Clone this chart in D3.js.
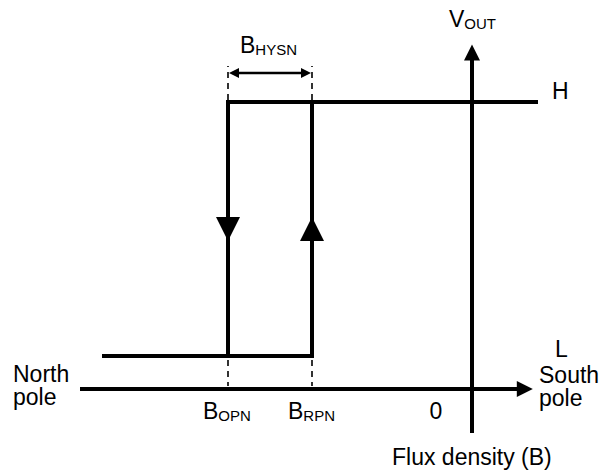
<!DOCTYPE html>
<html>
<head>
<meta charset="utf-8">
<script src="https://cdn.jsdelivr.net/npm/d3@7/dist/d3.min.js"></script>
<style>
  html, body { margin: 0; padding: 0; background: #fff; }
  text { font-family: "Liberation Sans", Arial, Helvetica, sans-serif; fill: #000; }
</style>
</head>
<body>
<div id="chart"></div>
<script>
// ---- data ----
const levelNames = ["L", "H"];              // output levels
const levelValues = [1.15, 10];             // V_OUT for L and H
const thresholdNames = ["OPN", "RPN"];      // B thresholds (subscripts)
const thresholdValues = [-6.1, -4];         // B_OPN, B_RPN
const fluxStart = -9.2;                     // where the L branch starts
const fluxEnd = 1.6;                        // where the H branch ends
const xAxisExtent = [-9.8, 1.52];
const yAxisExtent = [-1.53, 12];
const zeroLabel = ["0"];
const northLines = ["North", "pole"];
const southLines = ["South", "pole"];

const W = 601, H = 470;
const x = d3.scaleLinear().domain([0, 1]).range([472, 512]);   // 1 unit = 40px, 0 at 472
const y = d3.scaleLinear().domain([0, 10]).range([389, 102]);

const svg = d3.select("#chart").append("svg").attr("width", W).attr("height", H);

const bOPN = thresholdValues[0], bRPN = thresholdValues[1];
const vL = levelValues[0], vH = levelValues[1];

// axes
svg.append("line")
  .attr("x1", x(xAxisExtent[0])).attr("x2", x(xAxisExtent[1]) - 14)
  .attr("y1", y(0)).attr("y2", y(0))
  .attr("stroke", "#000").attr("stroke-width", 4);
svg.append("path")
  .attr("d", d3.line()([[x(xAxisExtent[1]) - 16, y(0) - 8], [x(xAxisExtent[1]), y(0)], [x(xAxisExtent[1]) - 16, y(0) + 8]]) + "Z")
  .attr("fill", "#000");

svg.append("line")
  .attr("x1", x(0)).attr("x2", x(0))
  .attr("y1", y(yAxisExtent[0])).attr("y2", y(yAxisExtent[1]) + 14)
  .attr("stroke", "#000").attr("stroke-width", 4);
svg.append("path")
  .attr("d", d3.line()([[x(0) - 8, y(yAxisExtent[1]) + 16], [x(0), y(yAxisExtent[1])], [x(0) + 8, y(yAxisExtent[1]) + 16]]) + "Z")
  .attr("fill", "#000");

// hysteresis loop
const line = d3.line().x(d => x(d[0])).y(d => y(d[1]));
const segments = [
  [[bOPN, vH], [fluxEnd, vH]],
  [[fluxStart, vL], [bRPN, vL]],
  [[bOPN, vH], [bOPN, vL]],
  [[bRPN, vL], [bRPN, vH]]
];
svg.selectAll("path.loop").data(segments).enter().append("path")
  .attr("class", "loop")
  .attr("d", line)
  .attr("fill", "none")
  .attr("stroke", "#000")
  .attr("stroke-width", 4)
  .attr("stroke-linecap", "square");

// direction arrows at mid-height
const midY = y((vH + vL) / 2);
const dirArrows = [{b: bOPN, dir: 1}, {b: bRPN, dir: -1}];
svg.selectAll("path.dir").data(dirArrows).enter().append("path")
  .attr("class", "dir")
  .attr("d", d => {
    const cx = x(d.b);
    const base = midY - d.dir * 12, tip = midY + d.dir * 12;
    return d3.line()([[cx - 12, base], [cx + 12, base], [cx, tip]]) + "Z";
  })
  .attr("fill", "#000");

// dashed guide lines
const guides = [];
thresholdValues.forEach(b => {
  guides.push({b: b, y1: y(vH) - 2, y2: y(vH) - 36});
  guides.push({b: b, y1: y(vL) + 4, y2: y(0) - 3});
});
svg.selectAll("line.guide").data(guides).enter().append("line")
  .attr("class", "guide")
  .attr("x1", d => x(d.b)).attr("x2", d => x(d.b))
  .attr("y1", d => d.y1).attr("y2", d => d.y2)
  .attr("stroke", "#000").attr("stroke-width", 1.6)
  .attr("stroke-dasharray", "6,5");

// hysteresis width double arrow
const hy = 73;
const x1 = x(bOPN), x2 = x(bRPN);
svg.append("line").attr("x1", x1 + 6).attr("x2", x2 - 6).attr("y1", hy).attr("y2", hy)
  .attr("stroke", "#000").attr("stroke-width", 2.5);
svg.append("path").attr("d", d3.line()([[x1 + 1, hy], [x1 + 11, hy - 5], [x1 + 11, hy + 5]]) + "Z").attr("fill", "#000");
svg.append("path").attr("d", d3.line()([[x2 - 1, hy], [x2 - 11, hy - 5], [x2 - 11, hy + 5]]) + "Z").attr("fill", "#000");

// labels
const big = 23, small = 15;
function sub(g, xx, yy, main, s) {
  const t = g.append("text").attr("x", xx).attr("y", yy).style("font-size", big + "px");
  t.append("tspan").text(main);
  t.append("tspan").attr("dy", 2).style("font-size", small + "px").text(s);
  return t;
}
sub(svg, 240, 53, "B", "HYSN");
sub(svg, 449, 27, "V", "OUT");
sub(svg, 203, 419, "B", thresholdNames[0]);
sub(svg, 288, 419, "B", thresholdNames[1]);

svg.append("text").attr("x", 552).attr("y", 99).style("font-size", big + "px").text(levelNames[1]);
svg.append("text").attr("x", 555).attr("y", 357).style("font-size", big + "px").text(levelNames[0]);
svg.append("text").attr("x", 436).attr("y", 419).attr("text-anchor", "middle").style("font-size", big + "px").text(zeroLabel[0]);

svg.selectAll("text.north").data(northLines).enter().append("text")
  .attr("class", "north")
  .attr("x", 13).attr("y", (d, i) => 382 + i * 23)
  .style("font-size", big + "px").text(d => d);
svg.selectAll("text.south").data(southLines).enter().append("text")
  .attr("class", "south")
  .attr("x", 539).attr("y", (d, i) => 383 + i * 23)
  .style("font-size", big + "px").text(d => d);

svg.append("text").attr("x", 392).attr("y", 465).style("font-size", big + "px").text("Flux density (B)");
</script>
</body>
</html>
